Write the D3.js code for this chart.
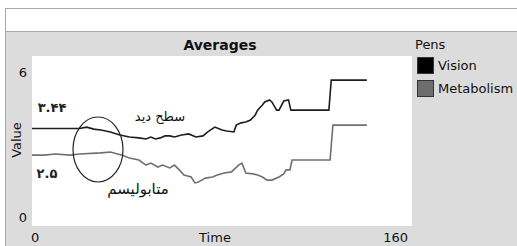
<!DOCTYPE html>
<html><head><meta charset="utf-8">
<script src="https://cdn.jsdelivr.net/npm/d3@7"></script>
<style>
html,body{margin:0;padding:0;background:#fff;}
svg{display:block;}
</style></head>
<body>
<script>
// ---- data ----
const visionTime = [0,8,20,23,26,29,33,37,41,45,48,50,52,54,56,58,60,63,66,69,72,74,77,80,82,85,86,88,90,92,94,95,97,98,100,101,103,104,106,108,109,125,126,141];
const visionValues = [3.44,3.44,3.44,3.49,3.42,3.39,3.32,3.21,3.14,3.11,3.07,3.14,3.07,3.11,3.18,3.18,3.14,3.21,3.25,3.14,3.18,3.32,3.49,3.39,3.35,3.32,3.56,3.64,3.67,3.74,3.92,4.09,4.27,4.38,4.45,4.38,4.09,4.09,4.41,4.45,4.09,4.09,5.15,5.15];
const metabTime = [0,5,10,16,20,29,33,38,41,45,48,50,53,55,58,60,62,64,67,68.6,70,73,76,78,81,84,87,88.4,90,93,95,97,99,101,104,106,107,108.6,109.5,125.5,126.7,141];
const metabValues = [2.5,2.5,2.54,2.5,2.54,2.58,2.61,2.5,2.4,2.33,2.15,2.22,2.08,2.15,2.05,2.15,1.98,1.8,1.73,1.52,1.55,1.69,1.73,1.8,1.87,1.91,2.15,2.22,1.87,1.84,1.8,1.73,1.62,1.62,1.73,1.84,1.98,1.98,2.33,2.33,3.56,3.56];
const seriesNames = ["Vision","Metabolism"];
const xTicks = [0,160];
const yTicks = [0,6];
const notes = ["۳.۴۴","سطح دید","۲.۵","متابولیسم"];

const W=517,H=246;
const svg=d3.select("body").append("svg").attr("width",W).attr("height",H);
const font="DejaVu Sans, Verdana, sans-serif";

// frame
svg.append("rect").attr("x",5.5).attr("y",8.5).attr("width",W).attr("height",H).attr("fill","#dcdcdc").attr("stroke","#a8a8a8");
svg.append("rect").attr("x",6).attr("y",9).attr("width",W).attr("height",22).attr("fill","#fff");
svg.append("line").attr("x1",6).attr("x2",W).attr("y1",31.5).attr("y2",31.5).attr("stroke","#a8a8a8");

const x=d3.scaleLinear().domain([0,160]).range([32,412]);
const y=d3.scaleLinear().domain([0,6]).range([226,56]);

svg.append("rect").attr("x",32).attr("y",56).attr("width",380).attr("height",170).attr("fill","#fff");

// title
svg.append("text").attr("x",220).attr("y",50).attr("text-anchor","middle").attr("font-family",font).attr("font-weight","bold").attr("font-size",14).attr("fill","#111").text("Averages");

// axis labels
const lab=(t,xx,yy,anchor)=>svg.append("text").attr("x",xx).attr("y",yy).attr("text-anchor",anchor).attr("font-family",font).attr("font-size",13).attr("fill","#111").text(t);
lab(yTicks[1],27,77,"end");
lab(yTicks[0],27,222,"end");
lab(xTicks[0],31,242,"start");
lab(xTicks[1],408,242,"end");
lab("Time",215,242,"middle");
svg.append("text").attr("transform","translate(21,140) rotate(-90)").attr("text-anchor","middle").attr("font-family",font).attr("font-size",13).attr("fill","#111").text("Value");

// lines
const line=d3.line().x(d=>x(d[0])).y(d=>y(d[1]));
svg.append("path").datum(metabTime.map((t,i)=>[t,metabValues[i]])).attr("d",line).attr("fill","none").attr("stroke","#707070").attr("stroke-width",1.6);
svg.append("path").datum(visionTime.map((t,i)=>[t,visionValues[i]])).attr("d",line).attr("fill","none").attr("stroke","#1e1e1e").attr("stroke-width",1.6);

// legend
svg.append("text").attr("x",415).attr("y",49).attr("font-family",font).attr("font-size",13).attr("fill","#111").text("Pens");
const colors=["#000","#6e6e6e"];
seriesNames.forEach((n,i)=>{
  const yy=57+i*23;
  svg.append("rect").attr("x",417.5).attr("y",yy+0.5).attr("width",16).attr("height",16).attr("fill",colors[i]).attr("stroke","#333");
  svg.append("text").attr("x",438).attr("y",yy+13).attr("font-family",font).attr("font-size",13).attr("fill","#111").text(n);
});

// hand annotations
const afont="DejaVu Sans, sans-serif";
svg.append("text").attr("x",52).attr("y",112).attr("text-anchor","middle").attr("font-family",afont).attr("font-size",13).attr("font-weight","bold").attr("fill","#222").text(notes[0]);
svg.append("text").attr("x",160).attr("y",121).attr("text-anchor","middle").attr("font-family",afont).attr("font-size",13).attr("fill","#111").text(notes[1]);
svg.append("text").attr("x",47).attr("y",178).attr("text-anchor","middle").attr("font-family",afont).attr("font-size",13).attr("font-weight","bold").attr("fill","#222").text(notes[2]);
svg.append("text").attr("x",138).attr("y",194).attr("text-anchor","middle").attr("font-family",afont).attr("font-size",15).attr("fill","#111").text(notes[3]);
svg.append("ellipse").attr("cx",98).attr("cy",149.5).attr("rx",25).attr("ry",32.5).attr("fill","none").attr("stroke","#222").attr("stroke-width",1.2);
</script>
</body></html>
